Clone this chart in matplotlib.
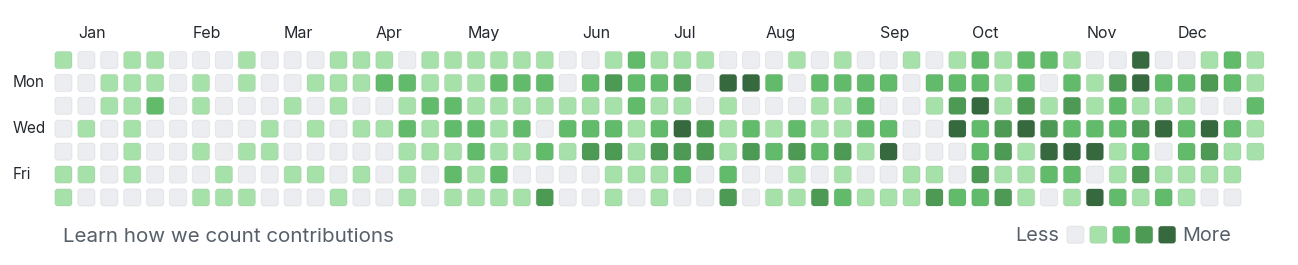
import numpy as np
import matplotlib
matplotlib.use('Agg')
import matplotlib.pyplot as plt
from matplotlib.patches import FancyBboxPatch

# contribution level per weekday row (Sun..Sat), one value per week column
sun = [1,0,0,1,1,0,0,0,1,0,0,0,1,1, 1,0,1,1,1,1,1,1,0,0,1,2,
       1,1,1,0,0,0,1,0,1,0,0,1,0, 1,2,1,2,2,1,0,0,4,0,0,1,2,1]
mon = [0,0,1,1,1,0,1,0,1,0,0,1,1,1, 2,2,1,1,1,2,2,2,0,2,3,2,
       2,3,0,4,4,2,0,2,2,2,2,0,2, 2,2,1,2,0,2,1,3,4,2,2,3,2,1]
tue = [0,0,1,1,2,0,1,0,0,0,1,0,1,0, 0,1,2,2,1,1,1,1,1,1,1,2,
       1,1,0,1,0,0,0,1,1,2,0,0,1, 3,4,1,3,1,3,1,2,1,1,1,0,0,2]
wed = [0,1,0,1,0,0,0,0,0,1,0,1,0,1, 1,2,1,2,2,1,2,0,2,2,2,1,
       2,4,3,1,2,1,2,1,1,2,2,0,0, 4,2,3,4,3,2,2,2,3,4,2,4,2,1]
thu = [0,0,0,1,0,0,1,0,1,1,0,0,0,0, 0,1,1,1,2,1,1,2,1,3,3,1,
       3,3,3,1,3,2,3,2,3,1,4,0,0, 0,2,3,1,4,4,4,1,2,0,2,3,1,1]
fri = [1,1,0,1,0,0,0,1,0,0,1,1,0,1, 0,1,0,2,1,2,0,0,0,0,1,1,
       1,2,0,2,0,0,1,0,1,0,0,1,1, 0,3,1,1,2,2,0,1,3,1,1,1,1]
sat = [1,0,0,0,0,0,1,1,1,0,0,0,1,0, 0,1,0,1,1,1,1,3,0,0,1,0,
       1,0,0,3,0,1,1,3,2,1,1,1,3, 2,2,3,1,0,1,4,2,1,2,1,0,0]
weeks_rows = [sun, mon, tue, wed, thu, fri, sat]

months = ['Jan', 'Feb', 'Mar', 'Apr', 'May', 'Jun', 'Jul', 'Aug', 'Sep', 'Oct', 'Nov', 'Dec']
month_cols = [1, 6, 10, 14, 18, 23, 27, 31, 36, 40, 45, 49]
day_labels = {1: 'Mon', 3: 'Wed', 5: 'Fri'}

level_colors = ['#ebedf0', '#a7e1aa', '#62bb6a', '#4d9a55', '#366a3e']
n_weeks = 53

plt.rcParams['font.family'] = ['Inter', 'DejaVu Sans']

fig = plt.figure(figsize=(12.98, 2.65), dpi=100)
# axes laid out so one data unit = one cell pitch
ax = fig.add_axes([52.0 / 1298, 1 - 208.9 / 265, (1266.8 - 52.0) / 1298, (208.9 - 48.6) / 265])
ax.set_xlim(-0.5, n_weeks - 0.5)
ax.set_ylim(6.5, -0.5)
ax.axis('off')

size = 0.75


def cell(x, y, level):
    p = FancyBboxPatch((x - size / 2, y - size / 2), size, size,
                       boxstyle='round,pad=0,rounding_size=0.13',
                       facecolor=level_colors[level],
                       edgecolor=(0.1, 0.12, 0.14, 0.06), linewidth=0.8,
                       clip_on=False)
    ax.add_patch(p)


for r, row in enumerate(weeks_rows):
    for c, lvl in enumerate(row):
        cell(c, r, lvl)

for name, col in zip(months, month_cols):
    ax.text(col - size / 2, -1.17, name, ha='left', va='center',
            fontsize=11.5, color='#24292f', clip_on=False)

for r, name in day_labels.items():
    ax.text(-2.22, r, name, ha='left', va='center',
            fontsize=11, color='#24292f', clip_on=False)

# footer
ax.text(0.0, 7.74, 'Learn how we count contributions', ha='left', va='center',
        fontsize=14.8, color='#57606a', clip_on=False)

legend_x0 = 44.15
for k in range(len(level_colors)):
    cell(legend_x0 + k, 7.63, k)
ax.text(legend_x0 - 0.72, 7.68, 'Less', ha='right', va='center',
        fontsize=14.3, color='#57606a', clip_on=False)
ax.text(legend_x0 + 4 + 0.68, 7.68, 'More', ha='left', va='center',
        fontsize=14.3, color='#57606a', clip_on=False)

fig.savefig('out.png', dpi=100, facecolor='white')
